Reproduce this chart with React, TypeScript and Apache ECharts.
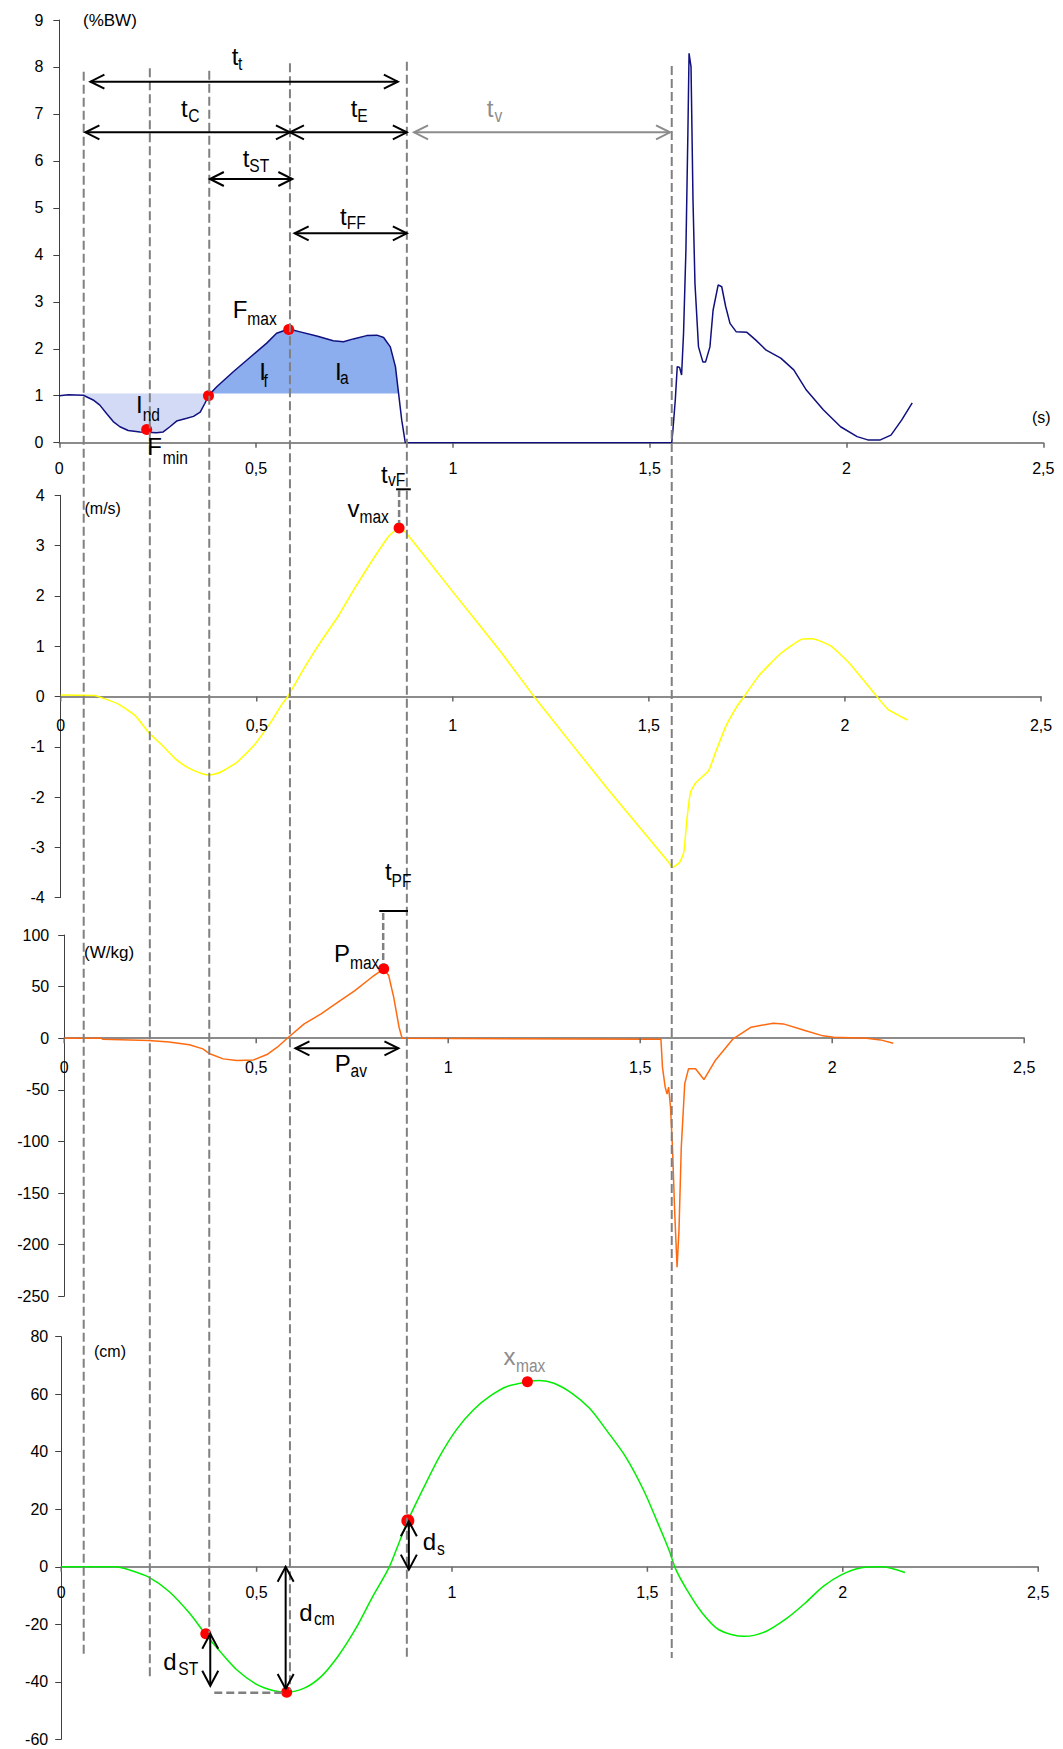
import React, { useEffect, useRef } from 'react';
import * as echarts from 'echarts';

// ---------- DATA ----------
// time (s), vertical ground reaction force (%BW)
const FORCE: number[][] = [
  [0, 1.0], [0.023, 1.02], [0.061, 1.01], [0.086, 0.91], [0.103, 0.8], [0.12, 0.62], [0.137, 0.45],
  [0.154, 0.34], [0.175, 0.26], [0.205, 0.23], [0.222, 0.22], [0.247, 0.21], [0.264, 0.23], [0.281, 0.34],
  [0.298, 0.46], [0.324, 0.52], [0.341, 0.56], [0.358, 0.65], [0.37, 0.84], [0.379, 1.0], [0.4, 1.19],
  [0.442, 1.51], [0.485, 1.82], [0.527, 2.12], [0.552, 2.33], [0.583, 2.42], [0.612, 2.36], [0.654, 2.27],
  [0.696, 2.17], [0.722, 2.15], [0.747, 2.21], [0.781, 2.28], [0.807, 2.29], [0.824, 2.24], [0.841, 2.04],
  [0.854, 1.62], [0.862, 1.05], [0.87, 0.48], [0.879, 0.0], [1.556, 0], [1.559, 0.27], [1.565, 0.91],
  [1.57, 1.62], [1.576, 1.6], [1.581, 1.44], [1.586, 2.33], [1.592, 4.1], [1.597, 6.59], [1.6, 8.29],
  [1.605, 8.0], [1.61, 5.17], [1.615, 3.39], [1.624, 2.04], [1.635, 1.72], [1.642, 1.72], [1.653, 2.04],
  [1.661, 2.82], [1.674, 3.36], [1.683, 3.32], [1.693, 2.9], [1.704, 2.54], [1.72, 2.36], [1.747, 2.35],
  [1.769, 2.19], [1.796, 1.97], [1.833, 1.8], [1.866, 1.55], [1.898, 1.12], [1.941, 0.7], [1.985, 0.34],
  [2.027, 0.13], [2.054, 0.06], [2.086, 0.06], [2.113, 0.16], [2.14, 0.48], [2.167, 0.85],
];
// time (s), velocity (m/s)
const VELOCITY: number[][] = [
  [0, 0.03], [0.087, 0.02], [0.103, -0.02], [0.147, -0.15], [0.19, -0.38], [0.225, -0.72], [0.26, -0.98],
  [0.294, -1.25], [0.328, -1.43], [0.363, -1.54], [0.38, -1.56], [0.406, -1.51], [0.449, -1.31],
  [0.492, -0.98], [0.535, -0.52], [0.561, -0.19], [0.579, 0], [0.622, 0.58], [0.665, 1.11], [0.708, 1.6],
  [0.751, 2.17], [0.794, 2.7], [0.837, 3.19], [0.863, 3.35], [0.88, 3.26], [1.001, 2.07], [1.121, 0.9],
  [1.207, 0], [1.395, -1.84], [1.551, -3.3], [1.56, -3.4], [1.578, -3.3], [1.589, -3.1], [1.597, -2.44],
  [1.606, -1.91], [1.62, -1.71], [1.652, -1.48], [1.67, -1.11], [1.697, -0.58], [1.725, -0.19], [1.743, 0],
  [1.78, 0.41], [1.834, 0.84], [1.89, 1.14], [1.917, 1.15], [1.963, 1.01], [2.009, 0.68], [2.073, 0.08],
  [2.109, -0.25], [2.16, -0.47],
];
// time (s), power (W/kg)
const POWER: number[][] = [
  [0, 0], [0.097, 0], [0.1, -1], [0.22, -2.3], [0.273, -3.6], [0.326, -6.4], [0.361, -10.3], [0.379, -15.1],
  [0.414, -20], [0.449, -21.6], [0.493, -21], [0.528, -15.8], [0.555, -8.7], [0.581, 0], [0.625, 13.9],
  [0.669, 23.6], [0.713, 34.9], [0.757, 46.2], [0.801, 59.1], [0.832, 67.2], [0.845, 60.8], [0.858, 39.8],
  [0.872, 10.7], [0.88, 0], [1.537, -1], [1.554, -1], [1.558, -28], [1.565, -47.4], [1.57, -54],
  [1.574, -47.4], [1.579, -66.8], [1.584, -105.5], [1.59, -170], [1.596, -221.8], [1.601, -186],
  [1.607, -105.5], [1.616, -44], [1.626, -29.5], [1.644, -29.5], [1.666, -40], [1.696, -21.3],
  [1.742, -0.6], [1.789, 10.7], [1.846, 14.6], [1.873, 13.9], [1.929, 7.4], [1.976, 2.3], [2.004, 1],
  [2.089, 0], [2.126, -1.6], [2.159, -4.8],
];
// time (s), centre-of-mass displacement (cm)
const DISPLACEMENT: number[][] = [
  [0, 0], [0.138, 0], [0.172, -1.0], [0.224, -3.6], [0.276, -8.6], [0.328, -16.1], [0.369, -23.4],
  [0.406, -29.4], [0.449, -35.8], [0.501, -41], [0.544, -43.1], [0.577, -43.6], [0.622, -42.2],
  [0.665, -38.2], [0.708, -31.2], [0.752, -21.9], [0.795, -10.9], [0.838, -0.5], [0.864, 8.2], [0.887, 16.0],
  [0.925, 26.8], [0.968, 38.3], [1.011, 47.6], [1.055, 54.6], [1.098, 59.4], [1.141, 62.7], [1.193, 64.3],
  [1.224, 64.8], [1.261, 63.8], [1.307, 60.3], [1.352, 55.1], [1.398, 47.0], [1.444, 38.3], [1.49, 26.7],
  [1.527, 15.1], [1.555, 5.9], [1.573, -1.0], [1.601, -8.0], [1.637, -15.5], [1.683, -21.9], [1.748, -24.2],
  [1.803, -22.5], [1.858, -17.8], [1.904, -12.6], [1.95, -6.8], [1.996, -2.8], [2.042, -0.5], [2.097, 0],
  [2.124, -0.5], [2.159, -2.0],
];
// event times (s) for the vertical dashed lines
const EVENT_T = [0.062, 0.23, 0.381, 0.586, 0.883, 1.556];
const BW_LEVEL = 1.05;
const IND_RANGE = [0.061, 0.379];
const IF_RANGE = [0.379, 0.862];
const FORCE_DOTS = [[0.222, 0.28], [0.379, 1.0], [0.583, 2.41]];
const VEL_DOTS = [[0.863, 3.35]];
const POWER_DOTS = [[0.832, 67.2]];
const DISP_DOTS = [[0.37, -23.3], [0.577, -43.6], [1.193, 64.3]];
const DISP_TAKEOFF_DOT = [[0.887, 16.0]];
const X_TICKS = [0, 0.5, 1, 1.5, 2, 2.5];
const Y_RANGES = [
  { min: 0, max: 9, interval: 1 },
  { min: -4, max: 4, interval: 1 },
  { min: -250, max: 100, interval: 50 },
  { min: -60, max: 80, interval: 20 },
];
const UNITS = ['(%BW)', '(m/s)', '(W/kg)', '(cm)'];

// ---------- LAYOUT ----------
const W = 1063;
const H = 1749;
const FONT = '"Liberation Sans", Arial, Helvetica, sans-serif';
const GRIDS = [
  { left: 59.3, top: 20, width: 984, height: 422.7 },
  { left: 60.7, top: 495.3, width: 980.3, height: 402.4 },
  { left: 64.2, top: 935, width: 960, height: 361.3 },
  { left: 61.2, top: 1336.7, width: 977, height: 402.6 },
];
const fmt = (v: number) => String(v).replace('.', ',');

function buildOption(): any {
  const xAxis = GRIDS.map((_, i) => ({
    type: 'value', gridIndex: i, min: 0, max: 2.5, interval: 0.5,
    axisLine: { show: true, onZero: true, lineStyle: { color: '#666', width: 1.5 } },
    axisTick: { show: i === 0, inside: false, length: 5, lineStyle: { color: '#666', width: 1.5 } },
    axisLabel: { show: i === 0, formatter: fmt, fontSize: 16, fontFamily: FONT, color: '#000', margin: 18 },
    splitLine: { show: false },
  }));
  const yAxis = Y_RANGES.map((r, i) => ({
    type: 'value', gridIndex: i, min: r.min, max: r.max, interval: r.interval,
    axisLine: { show: true, onZero: false, lineStyle: { color: '#404040', width: 1 } },
    axisTick: { show: true, inside: false, length: 6, lineStyle: { color: '#404040' } },
    axisLabel: { fontSize: 16, fontFamily: FONT, color: '#000', margin: [16, 16, 15, 13][i] },
    splitLine: { show: false },
  }));
  const line = (data: number[][], idx: number, color: string, smooth: number | boolean = false) => ({
    type: 'line', data, xAxisIndex: idx, yAxisIndex: idx, symbol: 'none', smooth,
    lineStyle: { color, width: 1.5 }, z: 3, silent: true,
  });
  const dots = (data: number[][], idx: number, size = 11) => ({
    type: 'scatter', data, xAxisIndex: idx, yAxisIndex: idx, symbolSize: size,
    itemStyle: { color: '#ff0000', opacity: 1 }, z: 6, silent: true,
  });
  return {
    animation: false,
    backgroundColor: '#ffffff',
    grid: GRIDS.map((g) => ({ ...g, containLabel: false })),
    xAxis, yAxis,
    series: [
      line(FORCE, 0, '#10107f'),
      line(VELOCITY, 1, '#ffff00', 0.15),
      line(POWER, 2, '#ff6a10'),
      line(DISPLACEMENT, 3, '#00ee00', 0.3),
      dots(FORCE_DOTS, 0),
      dots(VEL_DOTS, 1),
      dots(POWER_DOTS, 2),
      dots(DISP_DOTS, 3),
      dots(DISP_TAKEOFF_DOT, 3, 13),
    ],
  };
}

function seg(x1: number, y1: number, x2: number, y2: number, color: string, w = 2, dash?: number[]) {
  return { type: 'line', z: 50, silent: true, shape: { x1, y1, x2, y2 }, style: { stroke: color, lineWidth: w, lineDash: dash } };
}

function arrow(x1: number, y1: number, x2: number, y2: number, color = '#000', head = 14, half = 7) {
  const dx = x2 - x1, dy = y2 - y1, L = Math.hypot(dx, dy);
  const ux = dx / L, uy = dy / L, nx = -uy, ny = ux;
  const chev = (tx: number, ty: number, sx: number, sy: number) => ({
    type: 'polyline', z: 50, silent: true,
    shape: { points: [[tx - sx * head + nx * half, ty - sy * head + ny * half], [tx, ty], [tx - sx * head - nx * half, ty - sy * head - ny * half]] },
    style: { stroke: color, lineWidth: 2, fill: 'none' },
  });
  return [seg(x1, y1, x2, y2, color, 2), chev(x2, y2, ux, uy), chev(x1, y1, -ux, -uy)];
}

function txt(x: number, y: number, text: string, size: number, color = '#000', scaleX = 1, align = 'left', va = 'middle') {
  return { type: 'text', z: 60, silent: true, x, y, scaleX, style: { text, fontSize: size, fontFamily: FONT, fill: color, align, verticalAlign: va } };
}

function label(x: number, base: number, main: string, sub: string, sx: number, sbase: number, color = '#000') {
  const ms = 24, ss = 19;
  return [txt(x, base - 0.35 * ms, main, ms, color), txt(sx, sbase - 0.35 * ss, sub, ss, color, 0.82)];
}

function buildGraphics(chart: any): any[] {
  const px = (g: number, t: number, v: number) => chart.convertToPixel({ gridIndex: g }, [t, v]);
  const X = EVENT_T.map((t) => px(0, t, 0)[0]);
  const gy4 = (v: number) => px(3, 0, v)[1];
  const els: any[] = [];

  // impulse areas (between force curve and body-weight level)
  const ind = FORCE.filter(([t]) => t >= IND_RANGE[0] && t <= IND_RANGE[1]);
  const iff = FORCE.filter(([t]) => t >= IF_RANGE[0] && t <= IF_RANGE[1]);
  const poly = (pts: number[][], color: string) => ({
    type: 'polygon', z: 1, silent: true, shape: { points: pts }, style: { fill: color, stroke: 'none' },
  });
  els.push(poly([
    ...ind.map(([t, f]) => px(0, t, Math.min(f, BW_LEVEL))),
    ...ind.slice().reverse().map(([t]) => px(0, t, BW_LEVEL)),
  ], '#d2daf5'));
  els.push(poly([
    ...iff.map(([t, f]) => px(0, t, Math.max(f, BW_LEVEL))),
    ...iff.slice().reverse().map(([t]) => px(0, t, BW_LEVEL)),
  ], '#8cadee'));

  // x axis ticks & labels on the zero line for panels 2-4
  [1, 2, 3].forEach((g) => {
    X_TICKS.forEach((t) => {
      const [x, y] = px(g, t, 0);
      els.push({ type: 'line', z: 40, silent: true, shape: { x1: x, y1: y, x2: x, y2: y + 5 }, style: { stroke: '#666', lineWidth: 1.5 } });
      els.push(txt(x, y + (g === 3 ? 18 : 21), fmt(t), 16, '#000', 1, 'center', 'top'));
    });
  });

  const spans = [[71.7, 1655], [68.3, 1676.7], [70.7, 1633], [63.3, 1690], [61.7, 1660], [66, 1658]];
  X.forEach((x, i) => els.push(seg(x, spans[i][0], x, spans[i][1], '#808080', 2, [9, 4])));

  // time arrows (force panel)
  els.push(...arrow(X[0] + 6.7, 81.7, X[4] - 9, 81.7));
  els.push(...arrow(X[0] + 1.7, 132.3, X[3], 132.3));
  els.push(...arrow(X[3], 132.3, X[4], 132.3));
  els.push(...arrow(X[4] + 7.2, 132.3, X[5] - 1.7, 132.3, '#8c8c8c'));
  els.push(...arrow(X[2] + 0.6, 179, X[3] + 2.4, 179));
  els.push(...arrow(X[3] + 4.7, 233.3, X[4], 233.3));
  // power panel
  els.push(...arrow(X[3] + 5.5, 1048.3, X[4] - 8.4, 1048.3));
  // velocity / power markers
  const vdot = px(1, VEL_DOTS[0][0], VEL_DOTS[0][1]);
  els.push(seg(vdot[0] - 3, 489.3, vdot[0] + 11.7, 489.3, '#000', 2));
  els.push(seg(vdot[0], 490, vdot[0], vdot[1] - 5, '#808080', 2.5, [7, 3]));
  const pdot = px(2, POWER_DOTS[0][0], POWER_DOTS[0][1]);
  els.push(seg(pdot[0] - 4.4, 911, pdot[0] + 24.3, 911, '#000', 2));
  els.push(seg(pdot[0] - 0.5, 913, pdot[0] - 0.5, pdot[1] - 5, '#808080', 2.5, [7, 3]));
  // displacement panel
  els.push(...arrow(X[2] + 1, gy4(-23.3), X[2] + 1, gy4(-41.4), '#000', 15, 8));
  els.push(...arrow(X[3] - 4.3, gy4(0), X[3] - 4.3, gy4(-42.5), '#000', 15, 8));
  els.push(...arrow(X[4] + 2, gy4(15.8), X[4] + 2, gy4(-1.0), '#000', 15, 8));
  els.push(seg(X[2] + 5, gy4(-43.6) + 0.5, X[3] - 6, gy4(-43.6) + 0.5, '#808080', 2.5, [8, 4]));

  // labels
  const L: any[] = [
    [231.7, 65, 't', 't', 238, 70],
    [181, 117.3, 't', 'C', 188.3, 121.7],
    [350.7, 117.3, 't', 'E', 357.3, 121.7],
    [486.7, 117, 't', 'v', 494.5, 122, '#8c8c8c'],
    [242.7, 166.7, 't', 'ST', 249.3, 171.7],
    [340, 225, 't', 'FF', 346.7, 229],
    [232.7, 318.3, 'F', 'max', 247.3, 325],
    [136, 413.3, 'I', 'nd', 142.7, 420.7],
    [147.3, 455, 'F', 'min', 162.7, 464],
    [259.3, 380, 'I', 'f', 263.5, 386.7],
    [335, 380, 'I', 'a', 340, 384.3],
    [381, 483.3, 't', 'vF', 388, 486],
    [347.5, 516.7, 'v', 'max', 359.5, 523.3],
    [385, 880, 't', 'PF', 391.5, 886.7],
    [334, 962, 'P', 'max', 350, 969],
    [334.7, 1072, 'P', 'av', 350.5, 1077],
    [503.6, 1365, 'x', 'max', 516, 1371.7, '#8c8c8c'],
    [163.3, 1670, 'd', 'ST', 178.3, 1675],
    [299.3, 1620.7, 'd', 'cm', 314, 1625],
    [422.7, 1550, 'd', 's', 437, 1555],
  ];
  L.forEach((l) => els.push(...label(l[0], l[1], l[2], l[3], l[4], l[5], l[6] || '#000')));

  // unit labels
  els.push(txt(83, 20.5, UNITS[0], 17));
  els.push(txt(84.5, 508.3, UNITS[1], 16));
  els.push(txt(84, 952.7, UNITS[2], 17));
  els.push(txt(94, 1351, UNITS[3], 16));
  els.push(txt(1032, 417, '(s)', 16));
  return els;
}

export default function App() {
  const ref = useRef<HTMLDivElement>(null);
  useEffect(() => {
    if (!ref.current) return;
    const chart = echarts.init(ref.current, null, { renderer: 'svg' });
    chart.setOption(buildOption());
    chart.setOption({ graphic: { elements: buildGraphics(chart) } });
    return () => chart.dispose();
  }, []);
  return (
    <div
      ref={ref}
      style={{ position: 'absolute', left: 0, top: 0, width: W, height: H, background: '#fff' }}
    />
  );
}
